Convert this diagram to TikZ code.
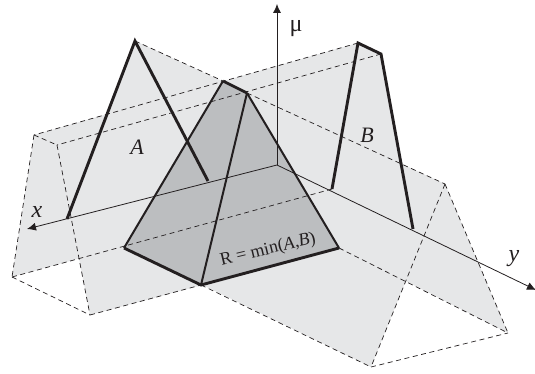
\documentclass[tikz,border=0pt]{standalone}
\usepackage{fontspec}
\setmainfont{Liberation Serif}
\usetikzlibrary{arrows.meta}
\definecolor{pale}{HTML}{E6E7E8}
\definecolor{mid}{HTML}{BCBEC0}
\definecolor{ink}{HTML}{231F20}
\tikzset{
  plane/.style={fill=pale,draw=none},
  hid/.style={draw=ink,line width=.7pt,dash pattern=on 5pt off 3.6pt},
  heavy/.style={draw=ink,line width=2.9pt,line join=miter},
  medium/.style={draw=ink,line width=2pt},
  axis/.style={draw=ink,line width=.8pt,-{Latex[length=9pt,width=8pt]}},
  lab/.style={inner sep=0pt,text=ink}
}
\begin{document}
\begin{tikzpicture}[x=1pt,y=-1pt]
\useasboundingbox (0,0) rectangle (535,374);
% coordinates of the A prism
\coordinate (Ap) at (135,41);
\coordinate (Aq) at (445,184);
\coordinate (Al) at (67,219);
\coordinate (Ar) at (208,181);
\coordinate (Afl) at (371,367);
\coordinate (Afr) at (508,333);
% coordinates of the B prism
\coordinate (Bp) at (358,43);
\coordinate (Bq) at (381,54);
\coordinate (Bpf) at (34,135);
\coordinate (Bqf) at (57,145);
\coordinate (Bl) at (332,189);
\coordinate (Br) at (413,229);
\coordinate (Bfl) at (12,277);
\coordinate (Bfr) at (90,315);
% R pyramid
\coordinate (Rp) at (223,81);
\coordinate (Rq) at (247,93);
\coordinate (Ra) at (124,248);
\coordinate (Rb) at (201,285);
\coordinate (Rc) at (339,248);
% axes
\coordinate (O) at (277,165);
\coordinate (Xt) at (27,229);
\coordinate (Yt) at (536,290);
\coordinate (Mt) at (277,4);
% faces
\fill[plane] (Bp) -- (Bpf) -- (Bfl) -- (Bl) -- cycle;
\fill[plane] (Bq) -- (Bqf) -- (Bfr) -- (Br) -- cycle;
\fill[plane] (Bp) -- (Bq) -- (Bqf) -- (Bpf) -- cycle;
\fill[plane] (Ap) -- (Al) -- (Afl) -- (Aq) -- cycle;
\fill[plane] (Ap) -- (Ar) -- (Afr) -- (Aq) -- cycle;
\fill[mid] (Ra) -- (Rp) -- (Rq) -- (Rc) -- (Rb) -- cycle;
% dashed edges
\draw[hid] (Ap) -- (Rp);
\draw[hid] (Rq) -- (Aq);
\draw[hid] (Aq) -- (Afl);
\draw[hid] (Aq) -- (Afr);
\draw[hid] (Afl) -- (Afr);
\draw[hid] (Rb) -- (Afl);
\draw[hid] (Rc) -- (Afr);
\draw[hid] (Bp) -- (Bpf);
\draw[hid] (Bq) -- (Bqf);
\draw[hid] (Bpf) -- (Bqf);
\draw[hid] (Bpf) -- (Bfl);
\draw[hid] (Bqf) -- (Bfr);
\draw[hid] (Bfl) -- (Bfr);
\draw[hid] (Bfl) -- (Bl);
\draw[hid] (Bfr) -- (Rb);
% axes
\draw[axis] (O) -- (Xt);
\draw[axis] (O) -- (Yt);
\draw[axis] (O) -- (Mt);
% solid profile lines
\draw[heavy] (Al) -- (Ap) -- (Ar);
\draw[heavy] (Bl) -- (Bp) -- (Bq) -- (Br);
\draw[medium] (Ra) -- (Rp);
\draw[medium] (Rb) -- (Rq);
\draw[medium] (Rq) -- (Rc);
\draw[heavy] (Rp) -- (Rq);
\draw[heavy] (Ra) -- (Rb) -- (Rc);
% labels
\node[lab,font=\fontsize{22}{22}\selectfont\itshape] (la) at (137,147) {A};
\node[lab,font=\fontsize{22}{22}\selectfont\itshape] (lb) at (367,135) {B};
\node[lab,font=\fontsize{24}{24}\selectfont\itshape] (lx) at (37,212) {x};
\node[lab,font=\fontsize{24}{24}\selectfont\itshape] (ly) at (514,259) {y};
\node[lab,font=\fontsize{24}{24}\selectfont] (lm) at (296,29) {μ};
\node[lab,rotate=13.5,font=\fontsize{18}{18}\selectfont] (lr) at (268,250) {R = min(\textit{A},\textit{B})};
\end{tikzpicture}
\end{document}
